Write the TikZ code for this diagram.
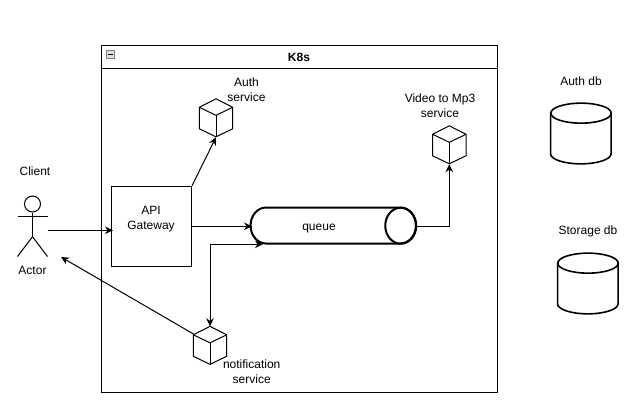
\documentclass[tikz,border=0pt]{standalone}
\usepackage{fontspec}
\setmainfont{Liberation Sans}
\usetikzlibrary{positioning}
\usetikzlibrary{arrows.meta}
\tikzstyle{txt} = [inner sep=0pt, align=center, font=\fontsize{12}{15}\selectfont]
\tikzstyle{arrow} = [line width=1pt,-{Stealth[length=8pt,width=7.5pt]}]
\tikzstyle{biarrow} = [line width=1pt,{Stealth[length=8pt,width=7.5pt]}-{Stealth[length=8pt,width=7.5pt]}]
\tikzstyle{cubebox} = [minimum width=33.4pt, minimum height=38pt, inner sep=0pt]
\tikzstyle{dbbox} = [minimum width=60.5pt, minimum height=60.7pt, inner sep=0pt]
\tikzstyle{queuebox} = [minimum width=165.3pt, minimum height=36pt, inner sep=0pt]
\newcommand{\servicecube}[2]{
\node[cubebox] (#1) at (#2) {};
\draw[line width=1pt] (#1.north) -- ++(16.7,8.5) -- ++(0,21.5) -- ++(-16.7,8) -- ++(-16.7,-8) -- ++(0,-21.5) -- cycle;
\draw[line width=1pt] (#1.north) ++(-16.7,8.5) -- ++(16.7,8) -- ++(16.7,-8);
\draw[line width=1pt] (#1.center) ++(0,-3) -- (#1.south);
}
\newcommand{\dbdrum}[2]{
\node[dbbox] (#1) at (#2) {};
\draw[line width=1.6pt] (#1.north) ++(0,10) ellipse [x radius=30.25, y radius=10];
\draw[line width=1.6pt] (#1.north west) ++(0,10) -- ++(0,40.7) arc [start angle=180, end angle=0, x radius=30.25, y radius=10] -- ++(0,-40.7);
}
\begin{document}
\begin{tikzpicture}[x=1pt,y=-1pt]
\useasboundingbox (0,0) rectangle (638,410);
% k8s frame
\node[draw, line width=1pt, minimum width=396pt, minimum height=347pt, inner sep=0pt] (frame) at (299.5,219) {};
\coordinate (titleleft) at (101.5,68.5);
\coordinate (titleright) at (497.5,68.5);
\draw[line width=1pt] (titleleft)--(titleright);
\node[draw=gray, fill=gray!25, minimum size=8pt, inner sep=0pt] (collapse) at (110.5,54.5) {};
\node[fill=black, minimum width=5pt, minimum height=1.2pt, inner sep=0pt] (minus) at (110.5,54.5) {};
\node[txt] (title) at (299,57) {\textbf{K8s}};
% actor
\node[draw, circle, line width=1pt, minimum size=16pt, inner sep=0pt] (head) at (32.5,204) {};
\coordinate (hip) at (32.5,236.7);
\coordinate (armleft) at (17.5,216);
\coordinate (armright) at (47.5,216);
\coordinate (footleft) at (17.5,256.5);
\coordinate (footright) at (47.5,256.5);
\draw[line width=1pt] (head)--(hip);
\draw[line width=1pt] (armleft)--(armright);
\draw[line width=1pt] (footleft)--(hip)--(footright);
\node[txt] (client) at (35,171) {Client};
\node[txt] (actor) at (32.5,270) {Actor};
% services
\node[draw, line width=1pt, minimum width=80pt, minimum height=80pt, inner sep=0pt] (api) at (151.5,226.3) {};
\node[txt] (apitext) at (151,219.5) {API\\Gateway};
\node[queuebox] (queue) at (333.4,225.7) {};
\draw[line width=2pt] (queue.north west) ++(15.5,0) -- ++(134.3,0) arc [start angle=-90, end angle=90, x radius=15.5, y radius=18] -- ++(-134.3,0) arc [start angle=90, end angle=270, x radius=15.5, y radius=18] -- cycle;
\draw[line width=2pt] (queue.east) ++(-15.5,0) ellipse [x radius=15.5, y radius=18];
\node[txt] (queuetext) at (319,229) {queue};
\servicecube{auth}{216,118}
\servicecube{video}{449.3,145}
\servicecube{notif}{210,345.5}
\node[txt] (authtext) at (246.5,90) {Auth\\service};
\node[txt] (videotext) at (440,106) {Video to Mp3\\service};
\node[txt] (notiftext) at (251.7,371.5) {notification\\service};
% databases
\dbdrum{authdb}{581,133.7}
\dbdrum{storagedb}{588,283.7}
\node[txt] (authdbtext) at (581,81) {Auth db};
\node[txt] (storagedbtext) at (588,231) {Storage db};
% connectors
\coordinate (actorout) at (48,230.3);
\coordinate (apiin) at (113,230.3);
\coordinate (apiout) at (191.5,226.3);
\coordinate (queuein) at (252,226.3);
\coordinate (queueback) at (263,244.3);
\coordinate (queueout) at (416,226);
\coordinate (notifleft) at (193.5,334);
\coordinate (actorin) at (61,257);
\draw[arrow] (actorout)--(apiin);
\draw[arrow] (api.north east)--(auth.south);
\draw[arrow] (apiout)--(queuein);
\draw[arrow] (queueout)-|(video.south);
\draw[biarrow] (queueback)-|(notif.north);
\draw[arrow] (notifleft)--(actorin);
\end{tikzpicture}
\end{document}
